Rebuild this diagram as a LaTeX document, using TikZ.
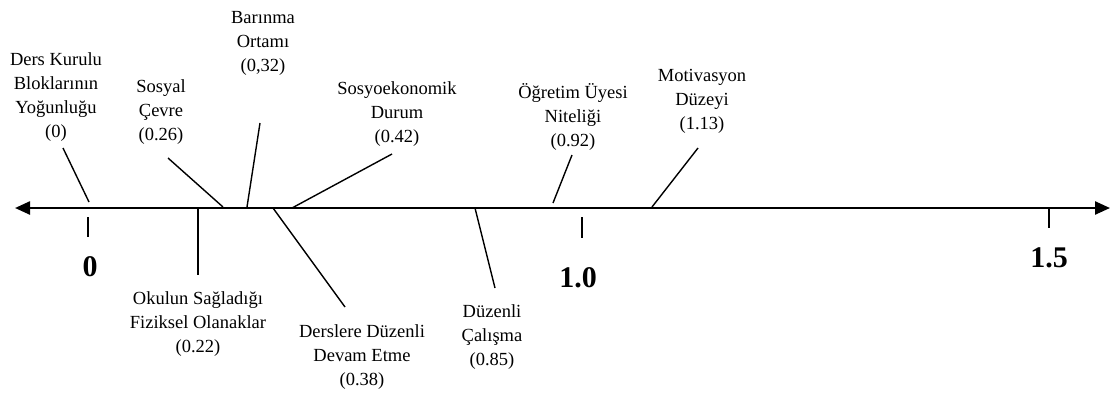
\documentclass[tikz,border=0pt]{standalone}
\usepackage{fontspec}
\setmainfont{Liberation Serif}
\usepackage{tikz}
\usetikzlibrary{arrows.meta, positioning}

\begin{document}
\begin{tikzpicture}[x=1pt,y=-1pt,
 factor/.style={align=center,inner sep=0pt,font=\fontsize{18.5}{24}\selectfont},
 value/.style={inner sep=0pt,font=\fontsize{30}{30}\selectfont\bfseries},
 link/.style={line width=1.4pt},
 tick/.style={line width=1.6pt},
 axis/.style={line width=2.4pt,{Triangle[length=15pt,width=13pt]}-{Triangle[length=15pt,width=13pt]}}]
   \useasboundingbox (0,0) rectangle (1110,392);

   % axis and scale
   \coordinate (ax-l) at (15,208);
   \coordinate (ax-r) at (1110,208);
   \draw[axis] (ax-l) -- (ax-r);

   \coordinate (t0a) at (88,217);    \coordinate (t0b) at (88,237);
   \coordinate (t1a) at (582,217);   \coordinate (t1b) at (582,238);
   \coordinate (t15a) at (1049,208); \coordinate (t15b) at (1049,228);
   \node[value] (v0) at (90,267) {0};
   \node[value] (v1) at (578,278) {1.0};
   \node[value] (v15) at (1049,258) {1.5};

   % factors above the axis
   \node[factor] (ders) at (56,97) {Ders Kurulu\\Bloklarının\\Yoğunluğu\\(0)};
   \node[factor] (sosyal) at (161,112) {Sosyal\\Çevre\\(0.26)};
   \node[factor] (barinma) at (263,43) {Barınma\\Ortamı\\(0,32)};
   \node[factor] (sosyo) at (397,114) {Sosyoekonomik\\Durum\\(0.42)};
   \node[factor] (ogretim) at (573,117) {Öğretim Üyesi\\Niteliği\\(0.92)};
   \node[factor] (motiv) at (702,101) {Motivasyon\\Düzeyi\\(1.13)};

   % factors below the axis
   \node[factor] (okul) at (198,324) {Okulun Sağladığı\\Fiziksel Olanaklar\\(0.22)};
   \node[factor] (devam) at (362,357) {Derslere Düzenli\\Devam Etme\\(0.38)};
   \node[factor] (calis) at (492,337) {Düzenli\\Çalışma\\(0.85)};

   % connector ends
   \coordinate (ders-a) at (89,202);    \coordinate (ders-b) at (63,148);
   \coordinate (sosyal-a) at (223,207); \coordinate (sosyal-b) at (168,158);
   \coordinate (barinma-a) at (247,207);\coordinate (barinma-b) at (260,123);
   \coordinate (sosyo-a) at (292,208);  \coordinate (sosyo-b) at (392,154);
   \coordinate (ogretim-a) at (553,203);\coordinate (ogretim-b) at (572,155);
   \coordinate (motiv-a) at (652,207);  \coordinate (motiv-b) at (698,148);
   \coordinate (okul-a) at (198,208);   \coordinate (okul-b) at (198,275);
   \coordinate (devam-a) at (273,208);  \coordinate (devam-b) at (345,307);
   \coordinate (calis-a) at (475,208);  \coordinate (calis-b) at (495,288);

  \foreach \s/\t in {ders-a/ders-b, sosyal-a/sosyal-b, barinma-a/barinma-b,
    sosyo-a/sosyo-b, ogretim-a/ogretim-b, motiv-a/motiv-b,
    okul-a/okul-b, devam-a/devam-b, calis-a/calis-b} {
   \draw[link] (\s) -- (\t);}
  \foreach \s/\t in {t0a/t0b, t1a/t1b, t15a/t15b} {
   \draw[tick] (\s) -- (\t);}
\end{tikzpicture}
\end{document}
